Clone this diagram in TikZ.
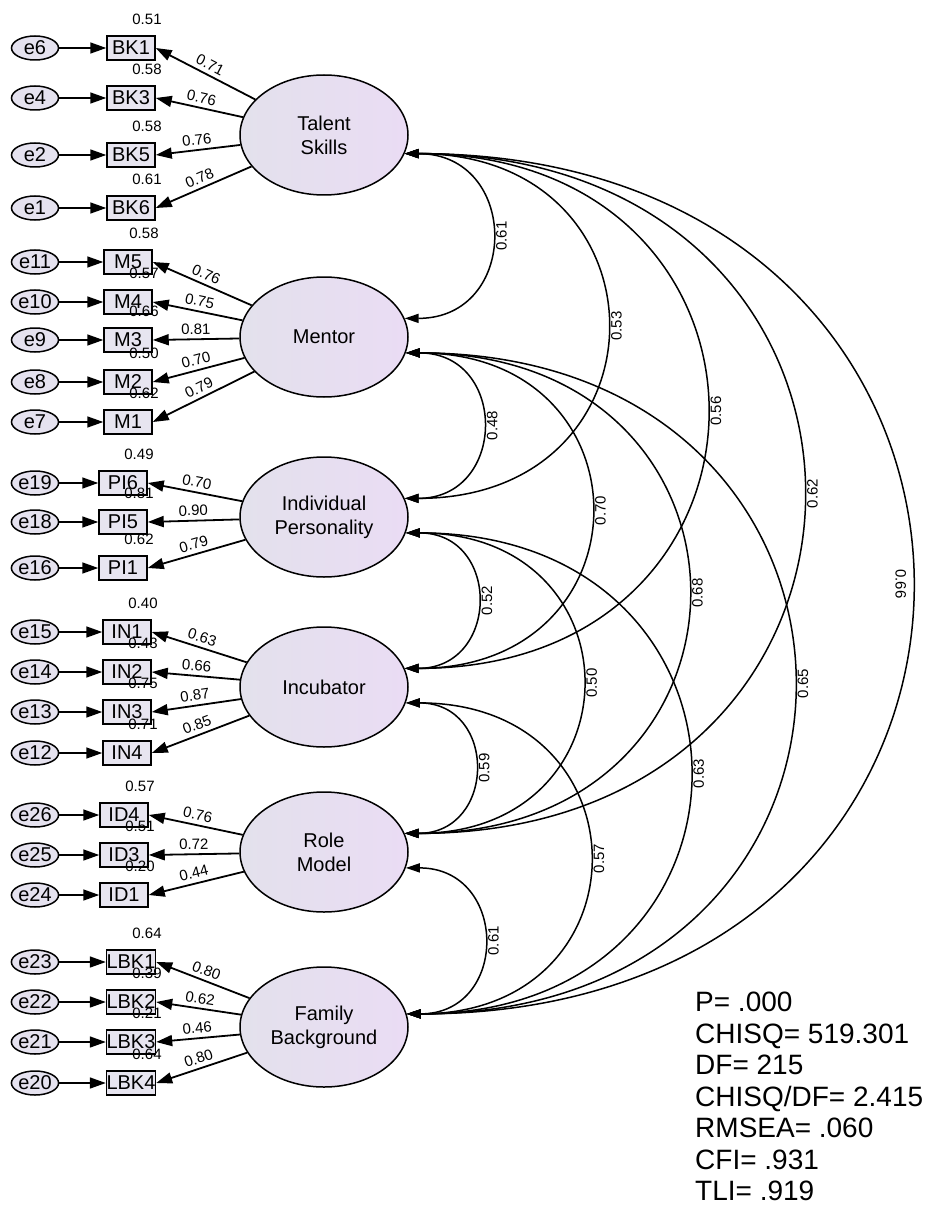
\documentclass[tikz,border=0pt]{standalone}
\usepackage{fontspec}
\setmainfont{Liberation Sans}
\usetikzlibrary{arrows.meta,positioning,shapes.geometric}
\definecolor{latleft}{HTML}{E3E1EC}
\definecolor{latright}{HTML}{EADCF4}
\definecolor{errfill}{HTML}{E5E2EF}
\definecolor{boxfill}{HTML}{E7E5F0}
\newcommand{\fsbig}{\fontsize{20}{24}\selectfont}
\newcommand{\fssmall}{\fontsize{15}{18}\selectfont}
\begin{document}
\begin{tikzpicture}[x=1pt, y=-1pt,
    latent/.style = {draw, line width=1.5pt, ellipse, minimum width=168pt, minimum height=120pt, inner sep=0pt, left color=latleft, right color=latright, align=center, font=\fsbig},
    obs/.style = {draw, line width=1.5pt, fill=boxfill, minimum width=48pt, minimum height=24pt, inner sep=0pt, font=\fsbig},
    err/.style = {draw, line width=1.5pt, ellipse, fill=errfill, minimum width=47pt, minimum height=24pt, inner sep=0pt, font=\fsbig},
    smc/.style = {inner sep=0pt, font=\fssmall},
    load/.style = {->, >={Triangle[length=16pt, width=11pt]}, line width=1.8pt},
    eload/.style = {->, >={Triangle[length=16pt, width=11pt]}, line width=1.6pt},
    cov/.style = {<->, >={Triangle[length=14pt, width=9pt]}, line width=1.5pt},
    lbl/.style = {font=\fssmall, sloped, above, pos=0.5, inner sep=4pt},
    clbl/.style = {font=\fssmall, rotate=90, anchor=north, midway, inner sep=4pt},
    stats/.style = {align=left, inner sep=0pt, text depth=0pt, font=\fontsize{28}{31.5}\selectfont}]
    \useasboundingbox (0,0) rectangle (929,1206);

    % Latent variables
    \node[latent] (TS) at (324,135) {Talent\\Skills};
    \node[latent] (M) at (324,337) {Mentor};
    \node[latent] (IP) at (324,517) {Individual\\Personality};
    \node[latent] (IN) at (324,687) {Incubator};
    \node[latent] (RM) at (324,852) {Role\\Model};
    \node[latent] (FB) at (324,1027) {Family\\Background};

    % Indicators
    \node[obs] (BK1) at (131,48) {BK1};
    \node[obs] (BK3) at (131,98) {BK3};
    \node[obs] (BK5) at (131,155) {BK5};
    \node[obs] (BK6) at (131,208) {BK6};
    \node[obs] (M5) at (128,262) {M5};
    \node[obs] (M4) at (128,302) {M4};
    \node[obs] (M3) at (128,340) {M3};
    \node[obs] (M2) at (128,382) {M2};
    \node[obs] (M1) at (128,422) {M1};
    \node[obs] (PI6) at (123,483) {PI6};
    \node[obs] (PI5) at (123,522) {PI5};
    \node[obs] (PI1) at (123,568) {PI1};
    \node[obs] (IN1) at (127,632) {IN1};
    \node[obs] (IN2) at (127,672) {IN2};
    \node[obs] (IN3) at (127,712) {IN3};
    \node[obs] (IN4) at (127,753) {IN4};
    \node[obs] (ID4) at (124,815) {ID4};
    \node[obs] (ID3) at (124,855) {ID3};
    \node[obs] (ID1) at (124,895) {ID1};
    \node[obs] (LBK1) at (131,962) {LBK1};
    \node[obs] (LBK2) at (131,1002) {LBK2};
    \node[obs] (LBK3) at (131,1042) {LBK3};
    \node[obs] (LBK4) at (131,1083) {LBK4};

    % Errors
    \node[err] (e6) at (35,48) {e6};
    \node[err] (e4) at (35,98) {e4};
    \node[err] (e2) at (35,155) {e2};
    \node[err] (e1) at (35,208) {e1};
    \node[err] (e11) at (35,262) {e11};
    \node[err] (e10) at (35,302) {e10};
    \node[err] (e9) at (35,340) {e9};
    \node[err] (e8) at (35,382) {e8};
    \node[err] (e7) at (35,422) {e7};
    \node[err] (e19) at (35,483) {e19};
    \node[err] (e18) at (35,522) {e18};
    \node[err] (e16) at (35,568) {e16};
    \node[err] (e15) at (35,632) {e15};
    \node[err] (e14) at (35,672) {e14};
    \node[err] (e13) at (35,712) {e13};
    \node[err] (e12) at (35,753) {e12};
    \node[err] (e26) at (35,815) {e26};
    \node[err] (e25) at (35,855) {e25};
    \node[err] (e24) at (35,895) {e24};
    \node[err] (e23) at (35,962) {e23};
    \node[err] (e22) at (35,1002) {e22};
    \node[err] (e21) at (35,1042) {e21};
    \node[err] (e20) at (35,1083) {e20};

    % Squared multiple correlations
    \node[smc, above=10pt of BK1, xshift=16pt] (sBK1) {0.51};
    \node[smc, above=10pt of BK3, xshift=16pt] (sBK3) {0.58};
    \node[smc, above=10pt of BK5, xshift=16pt] (sBK5) {0.58};
    \node[smc, above=10pt of BK6, xshift=16pt] (sBK6) {0.61};
    \node[smc, above=10pt of M5, xshift=16pt] (sM5) {0.58};
    \node[smc, above=10pt of M4, xshift=16pt] (sM4) {0.57};
    \node[smc, above=10pt of M3, xshift=16pt] (sM3) {0.66};
    \node[smc, above=10pt of M2, xshift=16pt] (sM2) {0.50};
    \node[smc, above=10pt of M1, xshift=16pt] (sM1) {0.62};
    \node[smc, above=10pt of PI6, xshift=16pt] (sPI6) {0.49};
    \node[smc, above=10pt of PI5, xshift=16pt] (sPI5) {0.81};
    \node[smc, above=10pt of PI1, xshift=16pt] (sPI1) {0.62};
    \node[smc, above=10pt of IN1, xshift=16pt] (sIN1) {0.40};
    \node[smc, above=10pt of IN2, xshift=16pt] (sIN2) {0.43};
    \node[smc, above=10pt of IN3, xshift=16pt] (sIN3) {0.75};
    \node[smc, above=10pt of IN4, xshift=16pt] (sIN4) {0.71};
    \node[smc, above=10pt of ID4, xshift=16pt] (sID4) {0.57};
    \node[smc, above=10pt of ID3, xshift=16pt] (sID3) {0.51};
    \node[smc, above=10pt of ID1, xshift=16pt] (sID1) {0.20};
    \node[smc, above=10pt of LBK1, xshift=16pt] (sLBK1) {0.64};
    \node[smc, above=10pt of LBK2, xshift=16pt] (sLBK2) {0.39};
    \node[smc, above=10pt of LBK3, xshift=16pt] (sLBK3) {0.21};
    \node[smc, above=10pt of LBK4, xshift=16pt] (sLBK4) {0.64};

    % Error paths
    \draw[eload] (e6) -- (BK1);
    \draw[eload] (e4) -- (BK3);
    \draw[eload] (e2) -- (BK5);
    \draw[eload] (e1) -- (BK6);
    \draw[eload] (e11) -- (M5);
    \draw[eload] (e10) -- (M4);
    \draw[eload] (e9) -- (M3);
    \draw[eload] (e8) -- (M2);
    \draw[eload] (e7) -- (M1);
    \draw[eload] (e19) -- (PI6);
    \draw[eload] (e18) -- (PI5);
    \draw[eload] (e16) -- (PI1);
    \draw[eload] (e15) -- (IN1);
    \draw[eload] (e14) -- (IN2);
    \draw[eload] (e13) -- (IN3);
    \draw[eload] (e12) -- (IN4);
    \draw[eload] (e26) -- (ID4);
    \draw[eload] (e25) -- (ID3);
    \draw[eload] (e24) -- (ID1);
    \draw[eload] (e23) -- (LBK1);
    \draw[eload] (e22) -- (LBK2);
    \draw[eload] (e21) -- (LBK3);
    \draw[eload] (e20) -- (LBK4);

    % Loadings
    \draw[load] (TS) -- node[lbl] {0.71} (BK1.east);
    \draw[load] (TS) -- node[lbl] {0.76} (BK3.east);
    \draw[load] (TS) -- node[lbl] {0.76} (BK5.east);
    \draw[load] (TS) -- node[lbl] {0.78} (BK6.east);
    \draw[load] (M) -- node[lbl] {0.76} (M5.east);
    \draw[load] (M) -- node[lbl] {0.75} (M4.east);
    \draw[load] (M) -- node[lbl] {0.81} (M3.east);
    \draw[load] (M) -- node[lbl] {0.70} (M2.east);
    \draw[load] (M) -- node[lbl] {0.79} (M1.east);
    \draw[load] (IP) -- node[lbl] {0.70} (PI6.east);
    \draw[load] (IP) -- node[lbl] {0.90} (PI5.east);
    \draw[load] (IP) -- node[lbl] {0.79} (PI1.east);
    \draw[load] (IN) -- node[lbl] {0.63} (IN1.east);
    \draw[load] (IN) -- node[lbl] {0.66} (IN2.east);
    \draw[load] (IN) -- node[lbl] {0.87} (IN3.east);
    \draw[load] (IN) -- node[lbl] {0.85} (IN4.east);
    \draw[load] (RM) -- node[lbl] {0.76} (ID4.east);
    \draw[load] (RM) -- node[lbl] {0.72} (ID3.east);
    \draw[load] (RM) -- node[lbl] {0.44} (ID1.east);
    \draw[load] (FB) -- node[lbl] {0.80} (LBK1.east);
    \draw[load] (FB) -- node[lbl] {0.62} (LBK2.east);
    \draw[load] (FB) -- node[lbl] {0.46} (LBK3.east);
    \draw[load] (FB) -- node[lbl] {0.80} (LBK4.east);

    % Covariances
    \draw[cov] (TS.-13) to[out=0, in=0, looseness=1.8] node[clbl] {0.61} (M.13);
    \draw[cov] (TS.-13) to[out=0, in=0, looseness=2] node[clbl] {0.53} (IP.13);
    \draw[cov] (TS.-13) to[out=0, in=0, looseness=2] node[clbl] {0.56} (IN.13);
    \draw[cov] (TS.-13) to[out=0, in=0, looseness=2] node[clbl] {0.62} (RM.13);
    \draw[cov] (TS.-13) to[out=0, in=0, looseness=2] node[clbl, rotate=180] {0.66} (FB.9);
    \draw[cov] (M.-11) to[out=0, in=0, looseness=1.8] node[clbl] {0.48} (IP.13);
    \draw[cov] (M.-11) to[out=0, in=0, looseness=2] node[clbl] {0.70} (IN.13);
    \draw[cov] (M.-11) to[out=0, in=0, looseness=2] node[clbl] {0.68} (RM.13);
    \draw[cov] (M.-11) to[out=0, in=0, looseness=2] node[clbl] {0.65} (FB.9);
    \draw[cov] (IP.-11) to[out=0, in=0, looseness=1.8] node[clbl] {0.52} (IN.13);
    \draw[cov] (IP.-11) to[out=0, in=0, looseness=2] node[clbl] {0.50} (RM.13);
    \draw[cov] (IP.-11) to[out=0, in=0, looseness=2] node[clbl] {0.63} (FB.9);
    \draw[cov] (IN.-11) to[out=0, in=0, looseness=1.8] node[clbl] {0.59} (RM.13);
    \draw[cov] (IN.-11) to[out=0, in=0, looseness=2] node[clbl] {0.57} (FB.9);
    \draw[cov] (RM.-11) to[out=0, in=0, looseness=1.8] node[clbl] {0.61} (FB.9);

    % Fit indices
    \node[stats, anchor=north west] (fit) at (695,992) {P= .000\\CHISQ= 519.301\\DF= 215\\CHISQ/DF= 2.415\\RMSEA= .060\\CFI= .931\\TLI= .919};
\end{tikzpicture}
\end{document}
